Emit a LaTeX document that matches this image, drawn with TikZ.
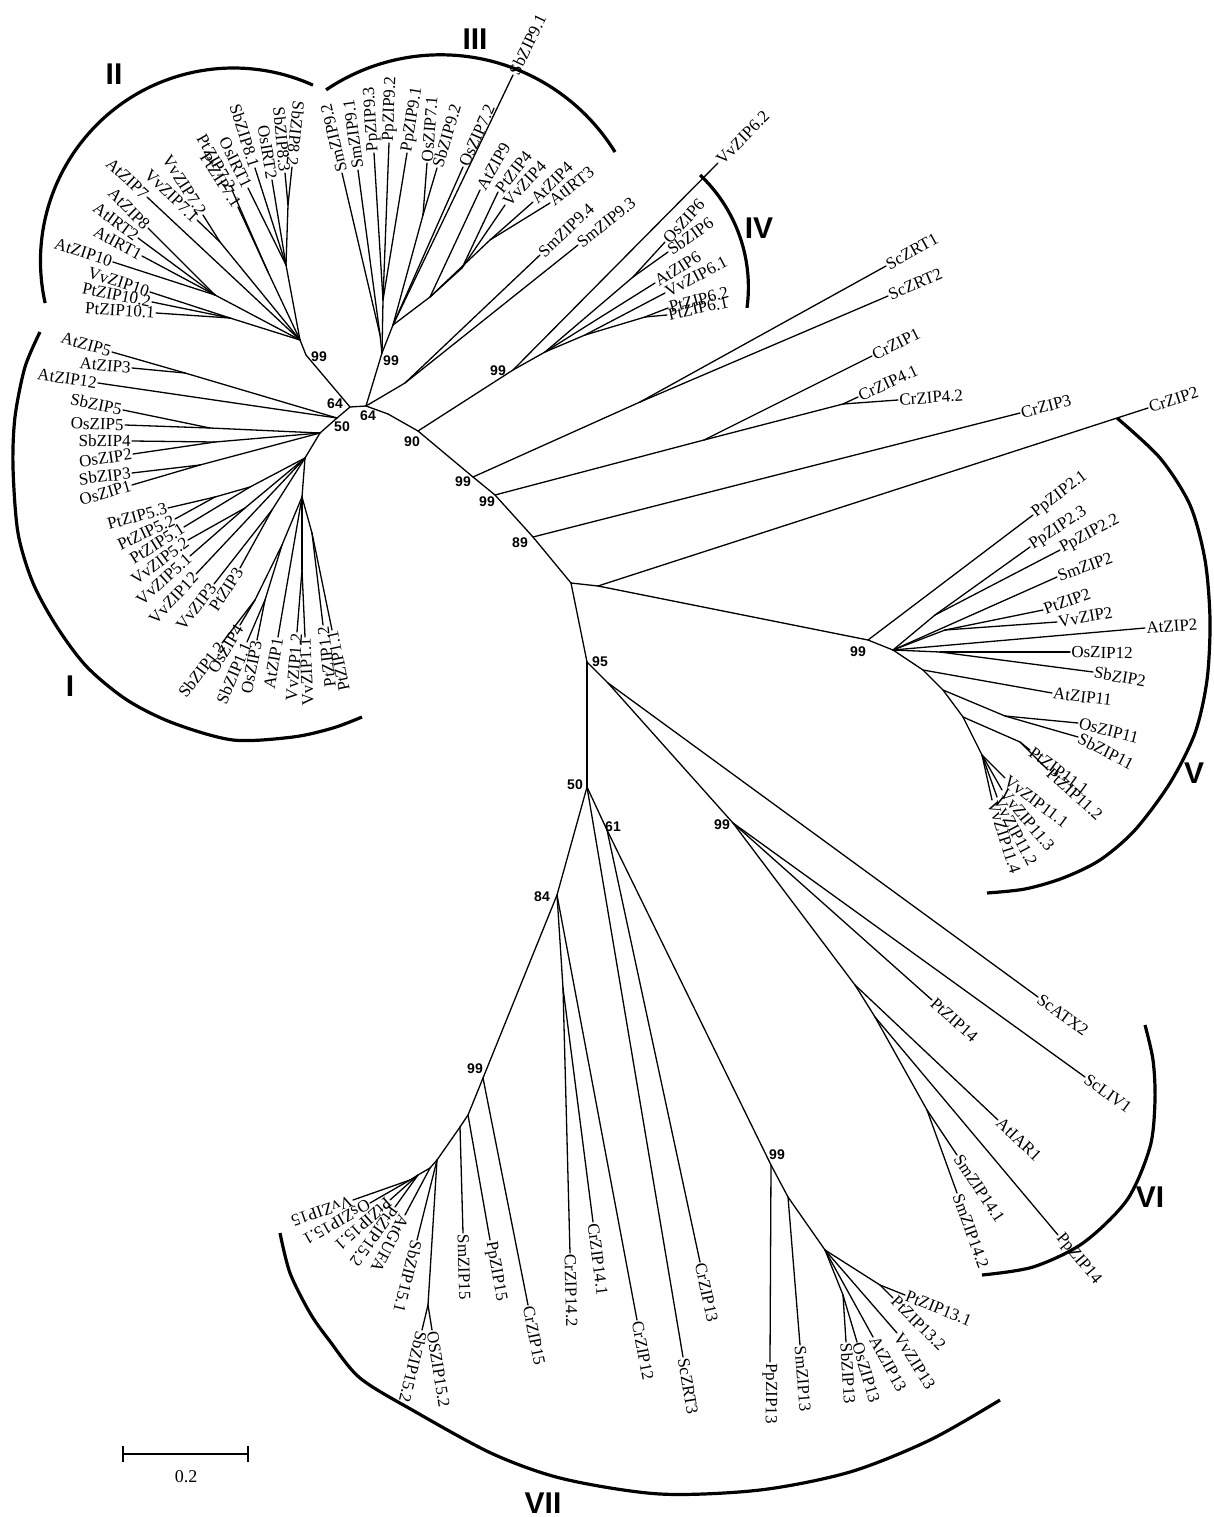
\documentclass[tikz,border=0pt]{standalone}
\usepackage{fontspec}
\setmainfont{Liberation Serif}
\newfontfamily\bsans{Liberation Sans}
\makeatletter
\newcommand\lf[6][]{%
  \coordinate (#4) at (#5);%
  \draw[br] (#3) -- (#4);%
  \def\lf@opt{#1}%
  \ifx\lf@opt\@empty
    \pgfmathanglebetweenpoints{\pgfpointanchor{#3}{center}}{\pgfpointanchor{#4}{center}}%
    \let\lf@ang\pgfmathresult
    \ifnum#2=1\relax\pgfmathsetmacro\lf@rot{\lf@ang+180}\else\let\lf@rot\lf@ang\fi
  \else
    \def\lf@rot{#1}%
  \fi
  \ifnum#2=1\relax\def\lf@anc{east}\else\def\lf@anc{west}\fi
  \node[lbl,rotate=\lf@rot,anchor=\lf@anc] (L#4) at (#4) {#6};%
}
\makeatother
\newcommand\nd[3]{\coordinate (#1) at (#3); \draw[br] (#2) -- (#1);}
\begin{document}
\begin{tikzpicture}[x=1pt,y=-1pt,
  br/.style={line width=1.3pt,line cap=round,line join=round},
  lbl/.style={font=\fontsize{17}{17}\selectfont,inner sep=1.2pt},
  boot/.style={font=\bsans\bfseries\fontsize{14}{14}\selectfont,inner sep=0pt},
  clade/.style={line width=3.2pt},
  roman/.style={font=\bsans\bfseries\fontsize{30}{30}\selectfont,inner sep=0pt}]
\useasboundingbox (0,0) rectangle (1213,1517);
\fill[white] (0,0) rectangle (1213,1517);
% ---------- backbone ----------
\coordinate (A) at (350,407);
\coordinate (B) at (366,406);
\draw[br] (A) -- (B);
\nd{n2}{A}{306,355}
\nd{n50a}{A}{337,418}
\nd{n3}{B}{382,353}
\nd{nS9}{B}{405,383}
\nd{bb1}{B}{388,414}
\nd{n90}{bb1}{418,431}
\nd{n99IV}{n90}{513,370}
\nd{n99a}{n90}{473,477}
\nd{nSc}{n99a}{640,402}
\nd{n99b}{n99a}{495,495}
\nd{nCr14}{n99b}{704,440}
\nd{n89}{n99b}{533,537}
\nd{nC}{n89}{571,583}
\nd{n598}{nC}{598,586}
\nd{n99V}{n598}{868,640}
\nd{n95}{nC}{587,662}
\nd{n608}{n95}{608,683}
\nd{n99VI}{n608}{733,823}
\nd{n50b}{n95}{587,787}
\nd{n84}{n50b}{557,895}
\nd{n61}{n50b}{607,830}
\nd{n99Zf}{n84}{483,1078}
\nd{n99Zt}{n61}{771,1165}
% ---------- Sc / Cr ----------
\lf{0}{nSc}{ScZRT1}{886,266}{ScZRT1}
\lf{0}{nSc}{ScZRT2}{888,296}{ScZRT2}
\lf{0}{nCr14}{CrZIP1}{872,356}{CrZIP1}
\nd{nCr4}{nCr14}{843,404}
\lf{0}{nCr4}{CrZIP4x1}{858,397}{CrZIP4.1}
\lf{0}{nCr4}{CrZIP4x2}{898,400}{CrZIP4.2}
\lf{0}{n89}{CrZIP3}{1020,413}{CrZIP3}
\lf{0}{n598}{CrZIP2}{1148,408}{CrZIP2}
% ---------- clade II ----------
\nd{n2a}{n2}{300,340}
\nd{n2Sb}{n2a}{286,265}
\lf{1}{n2Sb}{OsIRT1}{248,188}{OsIRT1}
\lf{1}{n2Sb}{SbZIP8x1}{255,168}{SbZIP8.1}
\lf{1}{n2Sb}{OsIRT2}{272,180}{OsIRT2}
\nd{n2Sbb}{n2Sb}{288,205}
\lf{1}{n2Sbb}{SbZIP8x3}{285,173}{SbZIP8.3}
\lf{1}{n2Sbb}{SbZIP8x2}{292,167}{SbZIP8.2}
\nd{n2Pt}{n2a}{268,272}
\lf[-60]{1}{n2Pt}{PtZIP7x2}{232,190}{PtZIP7.2}
\lf[-57]{1}{n2Pt}{PtZIP7x1}{238,207}{PtZIP7.1}
\nd{n2Vv}{n2a}{220,242}
\lf{1}{n2Vv}{VvZIP7x2}{203,215}{VvZIP7.2}
\lf{1}{n2Vv}{VvZIP7x1}{197,220}{VvZIP7.1}
\lf{1}{n2a}{AtZIP7}{147,197}{AtZIP7}
\nd{n2At}{n2a}{215,295}
\lf{1}{n2At}{AtZIP8}{148,228}{AtZIP8}
\lf{1}{n2At}{AtIRT2}{138,238}{AtIRT2}
\lf{1}{n2At}{AtIRT1}{142,256}{AtIRT1}
\lf{1}{n2At}{AtZIP10}{113,262}{AtZIP10}
\nd{n2Pt10}{n2a}{230,318}
\lf{1}{n2Pt10}{VvZIP10}{150,292}{VvZIP10}
\lf{1}{n2Pt10}{PtZIP10x2}{152,302}{PtZIP10.2}
\lf{1}{n2Pt10}{PtZIP10x1}{156,313}{PtZIP10.1}
% ---------- clade III ----------
\nd{nSm9}{n3}{380,335}
\lf{0}{nSm9}{SmZIP9x2}{342,173}{SmZIP9.2}
\lf{0}{nSm9}{SmZIP9x1}{358,170}{SmZIP9.1}
\nd{nPp9}{n3}{383,300}
\lf{0}{nPp9}{PpZIP9x3}{374,153}{PpZIP9.3}
\lf{0}{nPp9}{PpZIP9x2}{389,143}{PpZIP9.2}
\lf{0}{nPp9}{PpZIP9x1}{407,153}{PpZIP9.1}
\nd{n3b}{n3}{393,325}
\nd{nOs71}{n3b}{423,215}
\lf{0}{nOs71}{OsZIP7x1}{427,163}{OsZIP7.1}
\lf{0}{nOs71}{SbZIP9x2}{437,168}{SbZIP9.2}
\lf{0}{n3b}{OsZIP7x2}{463,167}{OsZIP7.2}
\lf{0}{n3b}{SbZIP9x1}{513,75}{SbZIP9.1}
\nd{n3c}{n3b}{430,297}
\lf[60]{0}{n3c}{AtZIP9}{480,190}{AtZIP9}
\nd{n3d}{n3c}{462,268}
\lf[52]{0}{n3d}{PtZIP4}{498,192}{PtZIP4}
\lf[47]{0}{n3d}{VvZIP4}{505,205}{VvZIP4}
\nd{n3e}{n3c}{490,240}
\lf[45]{0}{n3e}{AtZIP4}{533,202}{AtZIP4}
\lf[38]{0}{n3e}{AtIRT3}{550,203}{AtIRT3}
\lf{0}{nS9}{SmZIP9x4}{540,255}{SmZIP9.4}
\lf{0}{nS9}{SmZIP9x3}{578,245}{SmZIP9.3}
% ---------- clade IV ----------
\lf{0}{n99IV}{VvZIP6x2}{718,163}{VvZIP6.2}
\nd{nIVa}{n99IV}{545,352}
\nd{nIVb}{nIVa}{633,277}
\lf{0}{nIVb}{OsZIP6}{665,242}{OsZIP6}
\lf{0}{nIVb}{SbZIP6}{668,252}{SbZIP6}
\lf{0}{nIVa}{AtZIP6}{655,283}{AtZIP6}
\nd{nIVc}{nIVa}{585,335}
\lf{0}{nIVc}{VvZIP6x1}{665,293}{VvZIP6.1}
\nd{nPt6}{nIVc}{645,317}
\lf[15]{0}{nPt6}{PtZIP6x2}{668,308}{PtZIP6.2}
\lf[12]{0}{nPt6}{PtZIP6x1}{667,315}{PtZIP6.1}
% ---------- clade I ----------
\nd{nAt35}{n50a}{185,373}
\lf{1}{nAt35}{AtZIP5}{112,352}{AtZIP5}
\lf{1}{nAt35}{AtZIP3}{132,368}{AtZIP3}
\lf{1}{n50a}{AtZIP12}{98,383}{AtZIP12}
\nd{nI2}{n50a}{320,433}
\nd{nI2a}{nI2}{210,428}
\lf{1}{nI2a}{SbZIP5}{123,410}{SbZIP5}
\lf{1}{nI2a}{OsZIP5}{125,425}{OsZIP5}
\nd{nI2b}{nI2}{215,442}
\lf{1}{nI2b}{SbZIP4}{132,441}{SbZIP4}
\lf{1}{nI2b}{OsZIP2}{133,454}{OsZIP2}
\nd{nI2c}{nI2}{200,465}
\lf{1}{nI2c}{SbZIP3}{132,473}{SbZIP3}
\lf{1}{nI2c}{OsZIP1}{132,485}{OsZIP1}
\nd{nI3}{nI2}{305,458}
\nd{nPt5}{nI3}{250,487}
\nd{nPt5a}{nPt5}{215,497}
\lf[15]{1}{nPt5a}{PtZIP5x3}{168,508}{PtZIP5.3}
\lf[25]{1}{nPt5a}{PtZIP5x2}{175,519}{PtZIP5.2}
\lf[32]{1}{nPt5}{PtZIP5x1}{184,527}{PtZIP5.1}
\nd{nVv5}{nI3}{245,508}
\lf[37]{1}{nVv5}{VvZIP5x2}{188,540}{VvZIP5.2}
\lf[42]{1}{nVv5}{VvZIP5x1}{190,556}{VvZIP5.1}
\lf[47]{1}{nI3}{VvZIP12}{196,574}{VvZIP12}
\nd{nVP3}{nI3}{272,510}
\lf[52]{1}{nVP3}{VvZIP3}{214,584}{VvZIP3}
\lf[57]{1}{nVP3}{PtZIP3}{240,568}{PtZIP3}
\nd{nI4}{nI3}{302,497}
\nd{nMono}{nI4}{282,545}
\nd{nMa}{nMono}{255,600}
\lf{1}{nMa}{SbZIP1x2}{222,643}{SbZIP1.2}
\lf{1}{nMa}{OsZIP4}{240,625}{OsZIP4}
\nd{nMb}{nMono}{265,600}
\lf{1}{nMb}{SbZIP1x1}{247,642}{SbZIP1.1}
\lf{1}{nMb}{OsZIP3}{257,640}{OsZIP3}
\lf{1}{nI4}{AtZIP1}{278,637}{AtZIP1}
\nd{nVv1}{nI4}{302,570}
\lf{1}{nVv1}{VvZIP1x2}{297,632}{VvZIP1.2}
\lf{1}{nVv1}{VvZIP1x1}{305,637}{VvZIP1.1}
\nd{nPt1}{nI4}{312,533}
\lf{1}{nPt1}{PtZIP1x2}{323,625}{PtZIP1.2}
\lf{1}{nPt1}{PtZIP1x1}{332,630}{PtZIP1.1}
% ---------- clade V ----------
\lf{0}{n99V}{PpZIP2x1}{1033,515}{PpZIP2.1}
\nd{nV1}{n99V}{893,650}
\nd{nPp2}{nV1}{935,615}
\lf[33]{0}{nPp2}{PpZIP2x3}{1030,547}{PpZIP2.3}
\lf[28]{0}{nPp2}{PpZIP2x2}{1060,550}{PpZIP2.2}
\lf[20]{0}{nV1}{SmZIP2}{1057,577}{SmZIP2}
\nd{nV2}{nV1}{945,630}
\lf[20]{0}{nV2}{PtZIP2}{1043,610}{PtZIP2}
\lf[10]{0}{nV2}{VvZIP2}{1057,622}{VvZIP2}
\lf[4]{0}{nV1}{AtZIP2}{1145,628}{AtZIP2}
\nd{nV3}{nV1}{940,652}
\lf[-1]{0}{nV3}{OsZIP12}{1070,652}{OsZIP12}
\lf[-10]{0}{nV3}{SbZIP2}{1093,672}{SbZIP2}
\nd{nV4}{nV1}{923,670}
\lf[-7]{0}{nV4}{AtZIP11}{1052,693}{AtZIP11}
\nd{nV5}{nV4}{943,690}
\nd{nV5a}{nV5}{1005,716}
\lf[-14]{0}{nV5a}{OsZIP11}{1078,723}{OsZIP11}
\lf[-27]{0}{nV5a}{SbZIP11}{1078,737}{SbZIP11}
\nd{nV6}{nV5}{963,717}
\nd{nPt11}{nV6}{1020,742}
\lf[-36]{0}{nPt11}{PtZIP11x1}{1030,750}{PtZIP11.1}
\lf[-42]{0}{nPt11}{PtZIP11x2}{1048,770}{PtZIP11.2}
\nd{nVv11}{nV6}{982,755}
\lf[-37]{0}{nVv11}{VvZIP11x1}{1005,778}{VvZIP11.1}
\lf[-50]{0}{nVv11}{VvZIP11x3}{1002,790}{VvZIP11.3}
\lf[-62]{0}{nVv11}{VvZIP11x2}{997,797}{VvZIP11.2}
\lf[-72]{0}{nVv11}{VvZIP11x4}{992,800}{VvZIP11.4}
% ---------- clade VI ----------
\lf{0}{n608}{ScATX2}{1038,997}{ScATX2}
\lf{0}{n99VI}{ScLIV1}{1085,1077}{ScLIV1}
\lf{0}{n99VI}{PtZIP14}{932,1000}{PtZIP14}
\nd{nVIa}{n99VI}{855,985}
\lf{0}{nVIa}{AtIAR1}{998,1120}{AtIAR1}
\nd{nVIb}{nVIa}{875,1017}
\lf{0}{nVIb}{PpZIP14}{1058,1235}{PpZIP14}
\nd{nSm14}{nVIb}{927,1110}
\lf{0}{nSm14}{SmZIP14x1}{957,1155}{SmZIP14.1}
\lf{0}{nSm14}{SmZIP14x2}{957,1193}{SmZIP14.2}
% ---------- clade VII ----------
\nd{n14}{n84}{563,988}
\lf{0}{n14}{CrZIP14x2}{570,1253}{CrZIP14.2}
\lf{0}{n14}{CrZIP14x1}{593,1222}{CrZIP14.1}
\lf{0}{n84}{CrZIP12}{637,1320}{CrZIP12}
\lf{0}{n50b}{ScZRT3}{683,1357}{ScZRT3}
\lf{0}{n61}{CrZIP13}{700,1262}{CrZIP13}
\lf{0}{n99Zf}{CrZIP15}{528,1305}{CrZIP15}
\nd{n15b}{n99Zf}{468,1115}
\lf{0}{n15b}{PpZIP15}{490,1240}{PpZIP15}
\nd{n15c}{n15b}{460,1127}
\lf{0}{n15c}{SmZIP15}{463,1233}{SmZIP15}
\nd{n15d}{n15c}{437,1160}
\nd{n15os}{n15d}{428,1305}
\lf{0}{n15os}{OSZIP15x2}{432,1330}{OSZIP15.2}
\lf{0}{n15os}{SbZIP15x2}{422,1330}{SbZIP15.2}
\lf{0}{n15d}{SbZIP15x1}{417,1240}{SbZIP15.1}
\nd{n15e}{n15d}{430,1168}
\lf{0}{n15e}{AtGUFA}{405,1215}{AtGUFA}
\nd{n15f}{n15e}{418,1175}
\lf{0}{n15f}{PtZIP15x2}{395,1207}{PtZIP15.2}
\lf{0}{n15f}{PtZIP15x1}{390,1200}{PtZIP15.1}
\nd{n15g}{n15f}{410,1180}
\lf{0}{n15g}{OsZIP15x1}{370,1203}{OsZIP15.1}
\lf{0}{n15g}{VvZIP15}{353,1200}{VvZIP15}
\lf{0}{n99Zt}{PpZIP13}{770,1362}{PpZIP13}
\nd{n13a}{n99Zt}{788,1197}
\lf{0}{n13a}{SmZIP13}{800,1345}{SmZIP13}
\nd{n13b}{n13a}{825,1250}
\nd{n13os}{n13b}{843,1295}
\lf{0}{n13os}{SbZIP13}{846,1342}{SbZIP13}
\lf{0}{n13os}{OsZIP13}{857,1342}{OsZIP13}
\lf{0}{n13b}{AtZIP13}{873,1337}{AtZIP13}
\lf[-58]{0}{n13b}{VvZIP13}{897,1333}{VvZIP13}
\nd{nPt13}{n13b}{880,1285}
\lf{0}{nPt13}{PtZIP13x2}{893,1298}{PtZIP13.2}
\lf{0}{nPt13}{PtZIP13x1}{905,1295}{PtZIP13.1}
% ---------- bootstrap values ----------
\node[boot] (b1) at (319,357) {99};
\node[boot] (b2) at (335,404) {64};
\node[boot] (b3) at (368,416) {64};
\node[boot] (b4) at (342,427) {50};
\node[boot] (b5) at (391,361) {99};
\node[boot] (b6) at (412,442) {90};
\node[boot] (b7) at (498,371) {99};
\node[boot] (b8) at (463,482) {99};
\node[boot] (b9) at (487,502) {99};
\node[boot] (b10) at (520,543) {89};
\node[boot] (b11) at (858,652) {99};
\node[boot] (b12) at (600,662) {95};
\node[boot] (b13) at (575,785) {50};
\node[boot] (b14) at (613,827) {61};
\node[boot] (b15) at (722,825) {99};
\node[boot] (b16) at (542,897) {84};
\node[boot] (b17) at (475,1069) {99};
\node[boot] (b18) at (777,1155) {99};
% ---------- clade arcs ----------
\draw[clade] (233.5,261) ++(167.4:193) arc[start angle=167.4,end angle=294.3,radius=193];
\draw[clade] (440.7,259.7) ++(236:204.9) arc[start angle=236,end angle=328.3,radius=204.9];
\draw[clade] (594,287.2) ++(313.4:154.4) arc[start angle=313.4,end angle=367.7,radius=154.4];
\draw[clade] plot[smooth] coordinates {(40,332) (25,367) (15,417) (13,467) (18,533) (33,583) (57,627) (87,667) (127,700) (173,723) (233,740) (293,737) (333,728) (362,717)};
\draw[clade] plot[smooth] coordinates {(1117,418) (1160,458) (1190,505) (1205,560) (1210,620) (1207,680) (1195,733) (1170,783) (1135,830) (1100,860) (1063,878) (1025,889) (987,893)};
\draw[clade] plot[smooth] coordinates {(1145,1025) (1153,1060) (1155,1100) (1150,1147) (1127,1200) (1083,1243) (1033,1267) (982,1275)};
\draw[clade] plot[smooth] coordinates {(280,1233) (290,1273) (310,1313) (329,1340) (360,1378) (414,1411) (493,1454) (564,1479) (660,1494) (760,1490) (850,1472) (930,1440) (1000,1400)};
\node[roman] (rI) at (70,686) {I};
\node[roman] (rII) at (114,74) {II};
\node[roman] (rIII) at (475,39) {III};
\node[roman] (rIV) at (759,228) {IV};
\node[roman] (rV) at (1194,773) {V};
\node[roman] (rVI) at (1150,1197) {VI};
\node[roman] (rVII) at (543,1503) {VII};
% ---------- scale bar ----------
\coordinate (sbL) at (123,1454);
\coordinate (sbR) at (248,1454);
\draw[line width=1.6pt] (sbL) -- (sbR);
\draw[line width=1.6pt] ([yshift=8pt]sbL) -- ([yshift=-8pt]sbL);
\draw[line width=1.6pt] ([yshift=8pt]sbR) -- ([yshift=-8pt]sbR);
\node[font=\fontsize{18}{18}\selectfont,inner sep=0pt] (sbT) at (186,1477) {0.2};
\end{tikzpicture}
\end{document}
